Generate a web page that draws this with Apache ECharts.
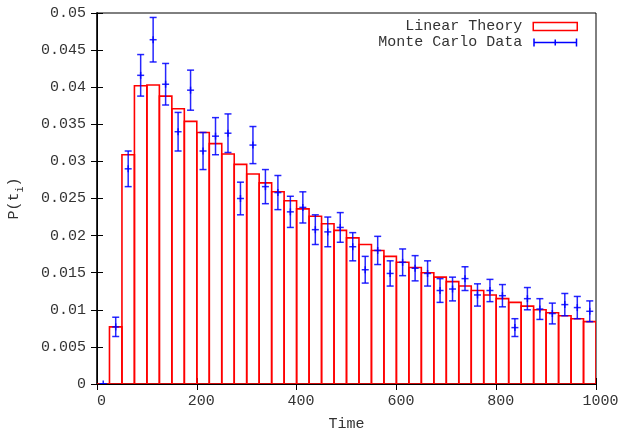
<!DOCTYPE html>
<html>
<head>
<meta charset="utf-8">
<script src="https://cdn.jsdelivr.net/npm/echarts@6/dist/echarts.min.js"></script>
<style>html,body{margin:0;padding:0;background:#fff}#c{width:618px;height:429px}</style>
</head>
<body>
<div id="c"></div>
<script>
// bin centres (time) and bin width
const times = [12.5, 37.5, 62.5, 87.5, 112.5, 137.5, 162.5, 187.5, 212.5, 237.5,
  262.5, 287.5, 312.5, 337.5, 362.5, 387.5, 412.5, 437.5, 462.5, 487.5,
  512.5, 537.5, 562.5, 587.5, 612.5, 637.5, 662.5, 687.5, 712.5, 737.5,
  762.5, 787.5, 812.5, 837.5, 862.5, 887.5, 912.5, 937.5, 962.5, 987.5];
const binWidth = 25;
// Linear theory histogram
const theory = [0, 0.0077, 0.0309, 0.0402, 0.0403, 0.0388, 0.0371, 0.0354, 0.0339, 0.0324,
  0.0310, 0.0296, 0.0283, 0.0271, 0.0259, 0.0247, 0.0236, 0.0226, 0.0216, 0.0207,
  0.0197, 0.0188, 0.0180, 0.0172, 0.0164, 0.0157, 0.0150, 0.0144, 0.0138, 0.0132,
  0.0126, 0.0120, 0.0115, 0.0110, 0.0105, 0.0100, 0.0096, 0.0092, 0.0088, 0.0084];
// Monte Carlo data: value and error
const mcValue = [0, 0.0077, 0.0290, 0.0416, 0.0464, 0.0404, 0.0340, 0.0396, 0.0314, 0.0334,
  0.0338, 0.0250, 0.0322, 0.0266, 0.0258, 0.0232, 0.0238, 0.0208, 0.0205, 0.0211,
  0.0185, 0.0154, 0.0180, 0.0149, 0.0164, 0.0156, 0.0149, 0.0126, 0.0128, 0.0142,
  0.0120, 0.0126, 0.0119, 0.0076, 0.0115, 0.0101, 0.0095, 0.0107, 0.0103, 0.0098];
const mcError = [0, 0.0013, 0.0024, 0.0028, 0.0030, 0.0028, 0.0026, 0.0027, 0.0025, 0.0025,
  0.0026, 0.0022, 0.0025, 0.0023, 0.0023, 0.0021, 0.0021, 0.0020, 0.0020, 0.0020,
  0.0019, 0.0018, 0.0019, 0.0017, 0.0018, 0.0017, 0.0017, 0.0016, 0.0016, 0.0016,
  0.0015, 0.0015, 0.0015, 0.0012, 0.0015, 0.0014, 0.0014, 0.0015, 0.0015, 0.0014];

const FONT = 'Liberation Mono';
const TXT = '#333333';

const barData = times.map((t, i) => [t - binWidth / 2, t + binWidth / 2, theory[i]]);
const errData = times.map((t, i) => [t, mcValue[i], mcError[i]]);

const chart = echarts.init(document.getElementById('c'), null, {renderer: 'canvas'});

const axisCommon = {
  axisTick: {show: true, inside: true, length: 6, lineStyle: {color: '#000', width: 1}},
  splitLine: {show: false},
};

chart.setOption({
  animation: false,
  backgroundColor: '#fff',
  grid: {left: 97, right: 22, top: 13, bottom: 45, show: true, borderColor: '#000', borderWidth: 1,
    containLabel: false, outerBoundsMode: 'none'},
  legend: {
    orient: 'vertical', right: 40, top: 19, align: 'right', padding: 0,
    itemWidth: 44, itemHeight: 8, itemGap: 1,
    textStyle: {fontFamily: FONT, fontSize: 15, color: TXT, lineHeight: 15, padding: [0, 6, 0, 0]},
    data: [
      {name: 'Linear Theory', icon: 'rect', itemStyle: {color: '#fff', borderColor: '#ff0000', borderWidth: 1.5}},
      {name: 'Monte Carlo Data', icon: 'path://M0,3.25h44v1.5h-44z M0,0h1.5v8h-1.5z M42.5,0h1.5v8h-1.5z M21.25,1h1.5v6h-1.5z',
        itemStyle: {color: '#0000ff', borderWidth: 0}}
    ]
  },
  xAxis: [
    Object.assign({
      type: 'value', min: 0, max: 1000, interval: 200, position: 'bottom',
      axisLine: {show: true, lineStyle: {color: '#333', width: 2}},
      axisLabel: {fontFamily: FONT, fontSize: 15, color: TXT, margin: 10, padding: [0, 0, 0, 9],
        formatter: function (v) { return String(v); }},
      name: 'Time', nameLocation: 'middle', nameGap: 33,
      nameTextStyle: {fontFamily: FONT, fontSize: 15, color: TXT}
    }, axisCommon),
    Object.assign({
      type: 'value', min: 0, max: 1000, interval: 200, position: 'top',
      axisLine: {show: true, lineStyle: {color: '#000', width: 1}},
      axisLabel: {show: false}
    }, axisCommon)
  ],
  yAxis: [
    Object.assign({
      type: 'value', min: 0, max: 0.05, interval: 0.005, position: 'left',
      axisLine: {show: true, lineStyle: {color: '#333', width: 2}},
      axisLabel: {fontFamily: FONT, fontSize: 15, color: TXT, margin: 11},
      name: '{a|P(t}{b|i}{a|)}', nameLocation: 'middle', nameGap: 72, nameRotate: 90,
      nameTextStyle: {
        fontFamily: FONT, fontSize: 15, color: TXT,
        rich: {
          a: {fontFamily: FONT, fontSize: 15, color: TXT, lineHeight: 22, verticalAlign: 'middle'},
          b: {fontFamily: FONT, fontSize: 10, color: TXT, lineHeight: 22, verticalAlign: 'bottom'}
        }
      }
    }, axisCommon),
    Object.assign({
      type: 'value', min: 0, max: 0.05, interval: 0.005, position: 'right',
      axisLine: {show: true, lineStyle: {color: '#000', width: 1}},
      axisLabel: {show: false}
    }, axisCommon)
  ],
  series: [
    {
      name: 'Linear Theory', type: 'custom', xAxisIndex: 0, yAxisIndex: 0,
      itemStyle: {color: '#ff0000'},
      data: barData, clip: true, z: 2,
      renderItem: function (params, api) {
        const p0 = api.coord([api.value(0), api.value(2)]);
        const p1 = api.coord([api.value(1), 0]);
        return {
          type: 'rect',
          shape: {x: p0[0], y: p0[1], width: p1[0] - p0[0], height: p1[1] - p0[1]},
          style: {fill: 'none', stroke: '#ff0000', lineWidth: 1.6}
        };
      }
    },
    {
      name: 'Monte Carlo Data', type: 'custom', xAxisIndex: 0, yAxisIndex: 0,
      itemStyle: {color: '#0000ff'},
      data: errData, clip: true, z: 3,
      renderItem: function (params, api) {
        const x = api.value(0), y = api.value(1), e = api.value(2);
        const pt = api.coord([x, y + e]);
        const pb = api.coord([x, y - e]);
        const pc = api.coord([x, y]);
        const hw = 3.5;
        const st = {stroke: '#0000ff', lineWidth: 1.5, opacity: 0.85};
        return {
          type: 'group',
          children: [
            {type: 'line', shape: {x1: pt[0], y1: pt[1], x2: pb[0], y2: pb[1]}, style: st},
            {type: 'line', shape: {x1: pt[0] - hw, y1: pt[1], x2: pt[0] + hw, y2: pt[1]}, style: st},
            {type: 'line', shape: {x1: pb[0] - hw, y1: pb[1], x2: pb[0] + hw, y2: pb[1]}, style: st},
            {type: 'line', shape: {x1: pc[0] - hw, y1: pc[1], x2: pc[0] + hw, y2: pc[1]}, style: st},
            {type: 'line', shape: {x1: pc[0], y1: pc[1] - hw, x2: pc[0], y2: pc[1] + hw}, style: st}
          ]
        };
      }
    }
  ]
});
</script>
</body>
</html>
